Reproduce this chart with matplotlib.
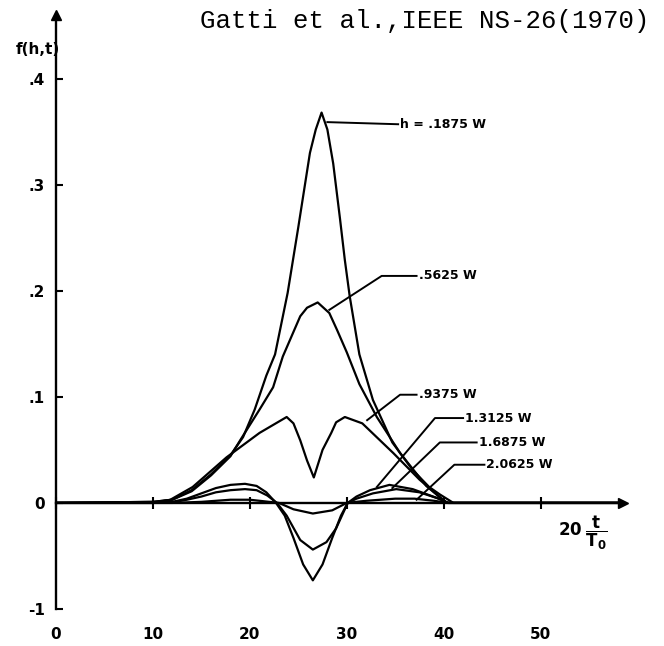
import matplotlib
matplotlib.use('Agg')
import matplotlib.pyplot as plt

# ---- data ----
x_h1875 = [0, 10, 12, 14, 16, 18, 19.3, 20.5, 21.7, 22.6, 23.9, 25, 26.2, 26.8, 27.4, 28.0, 28.6, 29.3, 29.8, 30.3, 31.3, 32.7, 34.7, 36.8, 38.5, 39.6, 41, 58]
y_h1875 = [0, 0.001, 0.003, 0.012, 0.027, 0.045, 0.062, 0.088, 0.12, 0.14, 0.198, 0.26, 0.33, 0.352, 0.368, 0.352, 0.32, 0.268, 0.229, 0.195, 0.14, 0.097, 0.057, 0.031, 0.015, 0.008, 0, 0]

x_h5625 = [0, 10, 12, 14, 16, 18, 19, 21, 22.4, 23.4, 25.2, 25.9, 27.0, 28.2, 29.0, 30.0, 31.3, 33.1, 35.5, 38.2, 40.3, 58]
y_h5625 = [0, 0.001, 0.003, 0.011, 0.026, 0.044, 0.059, 0.088, 0.109, 0.138, 0.176, 0.184, 0.189, 0.179, 0.163, 0.142, 0.112, 0.081, 0.047, 0.016, 0, 0]

x_h9375 = [0, 10, 11.8, 14.1, 17.6, 21, 23.8, 24.5, 25.2, 25.9, 26.6, 27.5, 28.4, 28.9, 29.8, 31.6, 34.8, 37.5, 40.3, 58]
y_h9375 = [0, 0, 0.003, 0.015, 0.043, 0.066, 0.081, 0.075, 0.059, 0.04, 0.024, 0.05, 0.066, 0.076, 0.081, 0.075, 0.047, 0.022, 0, 0]

x_h13125 = [0, 10, 12, 13.5, 15, 16.5, 18, 19.5, 20.7, 21.7, 22.7, 23.6, 24.5, 25.5, 26.5, 27.5, 28.5, 29.4, 30.1, 31, 32.4, 34.4, 36.8, 39.2, 40.5, 58]
y_h13125 = [0, 0, 0.001, 0.004, 0.009, 0.014, 0.017, 0.018, 0.016, 0.01, 0, -0.012, -0.033, -0.058, -0.073, -0.058, -0.033, -0.012, 0, 0.006, 0.012, 0.017, 0.013, 0.005, 0, 0]

x_h16875 = [0, 10, 12, 13.5, 15, 16.5, 18, 19.5, 20.7, 21.8, 22.8, 23.8, 25.2, 26.5, 27.9, 28.9, 29.6, 30.1, 31, 32.7, 35.1, 37.5, 39.5, 40.5, 58]
y_h16875 = [0, 0, 0.0005, 0.003, 0.006, 0.010, 0.012, 0.013, 0.012, 0.007, 0, -0.012, -0.035, -0.044, -0.037, -0.024, -0.01, 0, 0.004, 0.009, 0.013, 0.01, 0.004, 0, 0]

x_h20625 = [0, 12, 15, 18, 20, 22, 23, 24.5, 26.5, 28.5, 30, 32, 35, 37, 39, 40.5, 58]
y_h20625 = [0, 0, 0.001, 0.003, 0.003, 0.001, 0, -0.006, -0.010, -0.007, 0, 0.002, 0.004, 0.004, 0.002, 0, 0]

series_x = [x_h1875, x_h5625, x_h9375, x_h13125, x_h16875, x_h20625]
series_y = [y_h1875, y_h5625, y_h9375, y_h13125, y_h16875, y_h20625]
series_labels = ['h = .1875 W', '.5625 W', '.9375 W', '1.3125 W', '1.6875 W', '2.0625 W']

xtick_vals = [0, 10, 20, 30, 40, 50]
xtick_labels = ['0', '10', '20', '30', '40', '50']
ytick_vals = [-0.1, 0, 0.1, 0.2, 0.3, 0.4]
ytick_labels = ['-1', '0', '.1', '.2', '.3', '.4']

# leader-line layout for the curve labels (curve point, elbow, end)
leaders = [
    [(28.0, 0.359), (35.3, 0.357)],
    [(28.2, 0.182), (33.6, 0.214), (37.2, 0.214)],
    [(32.1, 0.078), (35.5, 0.102), (37.2, 0.102)],
    [(33.1, 0.015), (39.1, 0.080), (42.0, 0.080)],
    [(34.7, 0.014), (39.6, 0.057), (43.4, 0.057)],
    [(37.2, 0.003), (41.1, 0.036), (44.2, 0.036)],
]

fig = plt.figure(figsize=(6.64, 6.46), dpi=100)
ax = fig.add_axes([0.0843, 0.0573, 0.854, 0.9195])
ax.set_xlim(0, 58.5)
ax.set_ylim(-0.1, 0.46)

for xs, ys in zip(series_x, series_y):
    ax.plot(xs, ys, color='black', lw=1.6, solid_joinstyle='round', solid_capstyle='round')

bold = dict(family='DejaVu Sans', fontweight='bold')
for pts, lab in zip(leaders, series_labels):
    lx = [p[0] for p in pts]
    ly = [p[1] for p in pts]
    ax.plot(lx, ly, color='black', lw=1.4)
    ax.text(lx[-1] + 0.2, ly[-1], lab, ha='left', va='center', fontsize=9, **bold)

# axes styling
for s in ['top', 'right']:
    ax.spines[s].set_visible(False)
ax.spines['bottom'].set_position(('data', 0))
ax.spines['bottom'].set_linewidth(1.7)
ax.spines['left'].set_linewidth(1.7)

ax.set_xticks(xtick_vals)
ax.tick_params(axis='x', direction='inout', length=8, width=1.5, labelbottom=False)
ax.set_yticks(ytick_vals, ytick_labels)
ax.tick_params(axis='y', direction='in', length=5, width=1.5, pad=8, labelsize=11)
for t in ax.get_yticklabels():
    t.set_fontweight('bold')

sec = ax.secondary_xaxis('bottom')
sec.spines['bottom'].set_visible(False)
sec.set_xticks(xtick_vals, xtick_labels)
sec.tick_params(length=0, pad=13, labelsize=11)
for t in sec.get_xticklabels():
    t.set_fontweight('bold')

# axis arrows
ax.plot([0], [1], marker='^', ms=7, color='black', transform=ax.transAxes, clip_on=False)
ax.plot([1], [0], marker='>', ms=7, color='black', transform=ax.get_yaxis_transform(), clip_on=False)

# axis names
fig.text(38 / 664, 1 - 50 / 646, 'f(h,t)', ha='center', va='center', fontsize=11, **bold)
ax.text(51.8, -0.028, r'$\mathbf{20}\;\dfrac{\mathbf{t}}{\mathbf{T_0}}$', ha='left', va='center', fontsize=12)

fig.text(200 / 664, 1 - 21 / 646, 'Gatti et al.,IEEE NS-26(1970)', ha='left', va='center',
         fontsize=18.5, family='Liberation Mono')

fig.savefig('out.png', dpi=100)
